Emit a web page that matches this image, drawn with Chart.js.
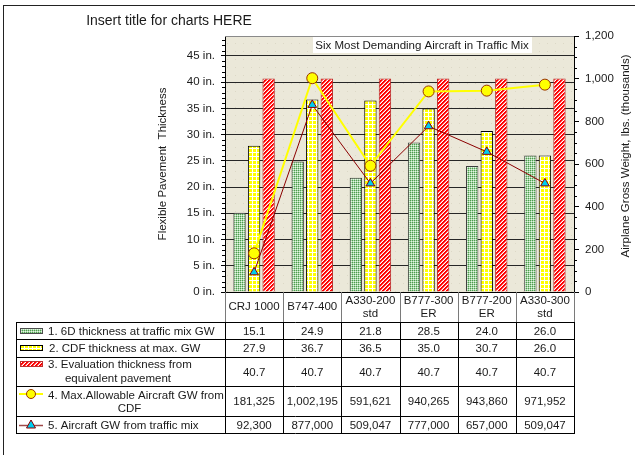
<!DOCTYPE html>
<html>
<head>
<meta charset="utf-8">
<script src="https://cdn.jsdelivr.net/npm/chart.js@4.4.1/dist/chart.umd.min.js"></script>
<style>
html, body { margin: 0; padding: 0; background: #fff; }
#wrap { width: 635px; height: 455px; }
</style>
</head>
<body>
<div id="wrap"><canvas id="c" width="635" height="455"></canvas></div>
<script>
// ---------- Data ----------
var categories = [['CRJ 1000'], ['B747-400'], ['A330-200', 'std'], ['B777-300', 'ER'], ['B777-200', 'ER'], ['A330-300', 'std']];
var thick6D = [15.1, 24.9, 21.8, 28.5, 24.0, 26.0];
var thickCDF = [27.9, 36.7, 36.5, 35.0, 30.7, 26.0];
var thickEval = [40.7, 40.7, 40.7, 40.7, 40.7, 40.7];
var maxGW = [181325, 1002195, 591621, 940265, 943860, 971952];
var mixGW = [92300, 877000, 509047, 777000, 657000, 509047];
var seriesNames = [
	['1. 6D thickness at traffic mix GW'],
	['2. CDF thickness at max. GW'],
	['3. Evaluation thickness from', 'equivalent pavement'],
	['4. Max.Allowable Aircraft GW from', 'CDF'],
	['5. Aircraft GW from traffic mix']
];
var leftTicks = [0, 5, 10, 15, 20, 25, 30, 35, 40, 45];
var rightTicks = [0, 200, 400, 600, 800, 1000, 1200];

var FONT = "'Liberation Sans', Arial, sans-serif";
var TXT = '11.5px ' + FONT;

// ---------- Fill patterns ----------
function makePattern(w, h, draw) {
	var cv = document.createElement('canvas');
	cv.width = w;
	cv.height = h;
	draw(cv.getContext('2d'));
	return document.getElementById('c').getContext('2d').createPattern(cv, 'repeat');
}

var greenPat = makePattern(2, 2, function (g) {
	g.fillStyle = '#a6d6a6'; g.fillRect(0, 0, 2, 2);
	g.fillStyle = '#4e9a4e'; g.fillRect(0, 0, 1, 1);
	g.fillStyle = '#e4f6e4'; g.fillRect(1, 1, 1, 1);
});
var yellowPat = makePattern(4, 4, function (g) {
	g.fillStyle = '#ffff00'; g.fillRect(0, 0, 4, 4);
	g.fillStyle = '#ffffff'; g.fillRect(0, 0, 4, 1); g.fillRect(0, 0, 1, 4);
});
var redPat = makePattern(4, 4, function (g) {
	g.fillStyle = '#ffffff'; g.fillRect(0, 0, 4, 4);
	for (var x = 0; x < 4; x++) {
		for (var y = 0; y < 4; y++) {
			var k = (x + y) % 4;
			if (k < 2) { g.fillStyle = '#ff0000'; g.fillRect(x, y, 1, 1); }
			else if (k === 2) { g.fillStyle = '#ff8080'; g.fillRect(x, y, 1, 1); }
		}
	}
});
var bgPat = makePattern(8, 8, function (g) {
	g.fillStyle = '#ebe8d9'; g.fillRect(0, 0, 8, 8);
	g.fillStyle = '#dcd8c6'; g.fillRect(3, 3, 1, 1);
});

// ---------- Drawing helpers ----------
function drawKeyBar(c, x, y, w, h, fill, border) {
	c.fillStyle = fill;
	c.fillRect(x, y, w, h);
	c.strokeStyle = border;
	c.lineWidth = 1;
	c.strokeRect(x + 0.5, y + 0.5, w - 1, h - 1);
}

function drawTriangle(c, x, y, r, fill, border) {
	c.beginPath();
	c.moveTo(x, y - r);
	c.lineTo(x + r * 0.9, y + r * 0.6);
	c.lineTo(x - r * 0.9, y + r * 0.6);
	c.closePath();
	c.fillStyle = fill;
	c.fill();
	c.strokeStyle = border;
	c.lineWidth = 1;
	c.stroke();
}

function hLine(c, x1, x2, y, color) {
	c.strokeStyle = color;
	c.lineWidth = 1;
	c.beginPath();
	c.moveTo(x1, y + 0.5);
	c.lineTo(x2, y + 0.5);
	c.stroke();
}

function vLine(c, x, y1, y2, color) {
	c.strokeStyle = color;
	c.lineWidth = 1;
	c.beginPath();
	c.moveTo(x + 0.5, y1);
	c.lineTo(x + 0.5, y2);
	c.stroke();
}

// ---------- Background, frame, title ----------
var backPlugin = {
	id: 'backPlugin',
	beforeDraw: function (chart) {
		var c = chart.ctx, a = chart.chartArea;
		c.save();
		c.fillStyle = '#ffffff';
		c.fillRect(0, 0, chart.width, chart.height);
		c.fillStyle = bgPat;
		c.fillRect(a.left, a.top, a.right - a.left, a.bottom - a.top);
		// outer frame
		hLine(c, 3, chart.width, 5, '#222');
		vLine(c, 3, 5, chart.height, '#222');
		// title
		c.fillStyle = '#1a1a1a';
		c.font = '14px ' + FONT;
		c.textAlign = 'center';
		c.textBaseline = 'middle';
		c.fillText('Insert title for charts HERE', 169, 21);
		c.restore();
	}
};

// ---------- Minor ticks, axis titles, data table ----------
var tablePlugin = {
	id: 'tablePlugin',
	afterDraw: function (chart) {
		var c = chart.ctx, a = chart.chartArea;
		var xs = chart.scales.x, yl = chart.scales.y, yr = chart.scales.y2;
		c.save();

		// plot frame top / bottom
		hLine(c, a.left, a.right, a.top, '#8a8a8a');
		hLine(c, a.left, a.right + 1, a.bottom, '#000');

		// minor ticks
		var v, py;
		for (v = 1; v < 49; v++) {
			if (v % 5 === 0) continue;
			py = Math.round(yl.getPixelForValue(v));
			hLine(c, a.left - 3, a.left, py, '#000');
		}
		for (v = 50; v < 1200; v += 50) {
			if (v % 200 === 0) continue;
			py = Math.round(yr.getPixelForValue(v));
			hLine(c, a.right, a.right + 3, py, '#000');
		}

		// inner label box
		c.fillStyle = '#ffffff';
		c.fillRect(313, 37, 219, 16);
		c.fillStyle = '#1a1a1a';
		c.font = TXT;
		c.textAlign = 'center';
		c.textBaseline = 'middle';
		c.fillText('Six Most Demanding Aircraft in Traffic Mix', 422, 45.5);

		// axis titles
		c.save();
		c.translate(163, 164);
		c.rotate(-Math.PI / 2);
		c.fillText('Flexible Pavement  Thickness', 0, 0);
		c.restore();
		c.save();
		c.translate(626, 156);
		c.rotate(-Math.PI / 2);
		c.fillText('Airplane Gross Weight, lbs. (thousands)', 0, 0);
		c.restore();

		// data table
		var n = categories.length;
		var colW = (xs.right - xs.left) / n;
		var rowLines = [322, 339, 357, 386, 416, 433];
		var tableLeft = 16;
		var i, j;

		// header (category names)
		for (i = 0; i < n; i++) {
			var cx = xs.getPixelForValue(i);
			var lines = categories[i];
			if (lines.length === 1) {
				c.fillText(lines[0], cx, 307);
			} else {
				c.fillText(lines[0], cx, 300.5);
				c.fillText(lines[1], cx, 314);
			}
		}
		for (i = 0; i <= n; i++) {
			var bx = Math.round(xs.left + i * colW);
			if (i === n) bx = Math.round(a.right);
			vLine(c, bx, a.bottom, rowLines[0], '#7a7a7a');
			vLine(c, bx, rowLines[0], rowLines[rowLines.length - 1] + 1, '#000');
		}
		vLine(c, tableLeft, rowLines[0], rowLines[rowLines.length - 1] + 1, '#000');
		for (j = 0; j < rowLines.length; j++) {
			hLine(c, tableLeft, Math.round(a.right) + 1, rowLines[j], '#000');
		}

		// row values
		var rows = [
			thick6D.map(function (d) { return d.toFixed(1); }),
			thickCDF.map(function (d) { return d.toFixed(1); }),
			thickEval.map(function (d) { return d.toFixed(1); }),
			maxGW.map(function (d) { return d.toLocaleString('en-US'); }),
			mixGW.map(function (d) { return d.toLocaleString('en-US'); })
		];
		for (j = 0; j < rows.length; j++) {
			var cy = (rowLines[j] + rowLines[j + 1]) / 2 + 1;
			for (i = 0; i < n; i++) {
				c.fillText(rows[j][i], xs.getPixelForValue(i), cy);
			}
		}

		// row headers with keys
		c.textAlign = 'left';
		c.fillText(seriesNames[0][0], 48, 331.5);
		c.fillText(seriesNames[1][0], 49, 348.5);
		c.fillText(seriesNames[2][0], 48, 365);
		c.textAlign = 'center';
		c.fillText(seriesNames[2][1], 118, 379);
		c.textAlign = 'left';
		c.fillText(seriesNames[3][0], 48, 395.5);
		c.textAlign = 'center';
		c.fillText(seriesNames[3][1], 129.5, 408.5);
		c.textAlign = 'left';
		c.fillText(seriesNames[4][0], 48, 425.5);

		drawKeyBar(c, 20, 328, 23, 6, greenPat, '#4d4d4d');
		drawKeyBar(c, 20, 345, 23, 6, yellowPat, '#000');
		drawKeyBar(c, 20, 361, 23, 6, redPat, '#c03030');

		c.strokeStyle = '#ffff00';
		c.lineWidth = 2;
		c.beginPath(); c.moveTo(19, 394); c.lineTo(43, 394); c.stroke();
		c.beginPath(); c.arc(31, 394, 4.5, 0, Math.PI * 2);
		c.fillStyle = '#ffff00'; c.fill();
		c.strokeStyle = '#993300'; c.lineWidth = 1; c.stroke();

		c.strokeStyle = '#a04848';
		c.lineWidth = 1.5;
		c.beginPath(); c.moveTo(19, 425.5); c.lineTo(43, 425.5); c.stroke();
		drawTriangle(c, 31, 425, 5, '#00ccee', '#8b0000');

		c.restore();
	}
};

// ---------- Chart ----------
var ctx = document.getElementById('c').getContext('2d');
var chart = new Chart(ctx, {
	type: 'bar',
	data: {
		labels: categories,
		datasets: [{
			type: 'bar',
			label: seriesNames[0].join(' '),
			data: thick6D,
			yAxisID: 'y',
			backgroundColor: greenPat,
			borderColor: '#3c3c3c',
			borderWidth: 1,
			categoryPercentage: 0.75,
			barPercentage: 0.85,
			order: 2
		}, {
			type: 'bar',
			label: seriesNames[1].join(' '),
			data: thickCDF,
			yAxisID: 'y',
			backgroundColor: yellowPat,
			borderColor: '#000000',
			borderWidth: 1,
			categoryPercentage: 0.75,
			barPercentage: 0.85,
			order: 3
		}, {
			type: 'bar',
			label: seriesNames[2].join(' '),
			data: thickEval,
			yAxisID: 'y',
			backgroundColor: redPat,
			borderColor: '#b82828',
			borderWidth: 1,
			categoryPercentage: 0.75,
			barPercentage: 0.85,
			order: 4
		}, {
			type: 'line',
			label: seriesNames[3].join(' '),
			data: maxGW.map(function (d) { return d / 1000; }),
			yAxisID: 'y2',
			borderColor: '#ffff00',
			borderWidth: 2,
			pointRadius: 5.5,
			pointBackgroundColor: '#ffff00',
			pointBorderColor: '#993300',
			pointBorderWidth: 1,
			tension: 0,
			order: 1
		}, {
			type: 'line',
			label: seriesNames[4].join(' '),
			data: mixGW.map(function (d) { return d / 1000; }),
			yAxisID: 'y2',
			borderColor: '#8b0000',
			borderWidth: 1,
			pointStyle: 'triangle',
			pointRadius: 5,
			pointBackgroundColor: '#00ccee',
			pointBorderColor: '#8b0000',
			pointBorderWidth: 1,
			tension: 0,
			order: 0
		}]
	},
	options: {
		responsive: false,
		animation: false,
		devicePixelRatio: 1,
		layout: { padding: { top: 36, bottom: 163, left: 0, right: 0 } },
		plugins: {
			legend: { display: false },
			tooltip: { enabled: false }
		},
		scales: {
			x: {
				offset: true,
				grid: { display: false },
				border: { display: false },
				ticks: { display: false },
				afterFit: function (s) { s.height = 0; }
			},
			y: {
				position: 'left',
				min: 0,
				max: 48.8,
				afterBuildTicks: function (s) { s.ticks = leftTicks.map(function (v) { return { value: v }; }); },
				afterFit: function (s) { s.width = 225; },
				ticks: {
					callback: function (v) { return v + ' in.'; },
					font: { family: FONT, size: 11.5 },
					color: '#1a1a1a',
					padding: 6
				},
				grid: { color: '#262626', lineWidth: 1, tickLength: 4, tickColor: '#000' },
				border: { color: '#000', width: 1 }
			},
			y2: {
				position: 'right',
				min: 0,
				max: 1200,
				afterBuildTicks: function (s) { s.ticks = rightTicks.map(function (v) { return { value: v }; }); },
				afterFit: function (s) { s.width = 61; },
				ticks: {
					callback: function (v) { return v.toLocaleString('en-US'); },
					font: { family: FONT, size: 11.5 },
					color: '#1a1a1a',
					padding: 6
				},
				grid: { drawOnChartArea: false, tickLength: 5, color: '#000' },
				border: { color: '#000', width: 1 }
			}
		}
	},
	plugins: [backPlugin, tablePlugin]
});
</script>
</body>
</html>
